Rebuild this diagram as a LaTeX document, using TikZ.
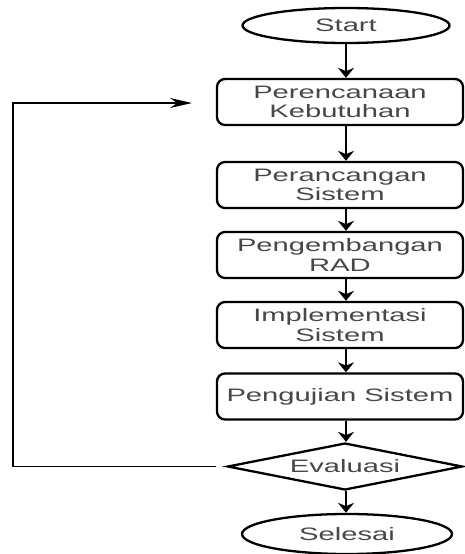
\documentclass[tikz,border=0pt]{standalone}
\usepackage{fontspec}
\setmainfont{Liberation Sans}
\newfontfamily\flowfont[FakeStretch=1.62]{Liberation Sans}
\usetikzlibrary{arrows.meta, positioning, shapes.geometric}

\begin{document}
\begin{tikzpicture}[
    x=1pt, y=-1pt,
    box/.style={draw, rounded corners=8pt, line width=2.3pt, minimum width=246pt, minimum height=46pt,
                align=center, inner sep=0pt, text=black!72,
                font=\flowfont\fontsize{18}{19.5}\selectfont},
    term/.style={box, ellipse, sharp corners, minimum width=207pt, minimum height=35pt},
    decide/.style={box, diamond, aspect=5, sharp corners, minimum width=235pt, minimum height=47pt},
    flow/.style={-{Stealth[length=10pt, width=16pt]}, line width=1.6pt},
    back/.style={-{Stealth[length=22pt, width=10pt]}, line width=1.4pt}
]
\useasboundingbox (0,0) rectangle (465,554);

\node[term]   (start)  at (346, 25.5) {Start};
\node[box]    (plan)   at (340, 102)  {Perencanaan\\Kebutuhan};
\node[box]    (design) at (340, 185)  {Perancangan\\Sistem};
\node[box]    (dev)    at (340, 255)  {Pengembangan\\RAD};
\node[box]    (impl)   at (340, 325)  {Implementasi\\Sistem};
\node[box]    (test)   at (340, 396.5) {Pengujian Sistem};
\node[decide] (eval)   at (345, 466.5) {Evaluasi};
\node[term, minimum width=210pt, minimum height=40pt] (finish) at (347, 534) {Selesai};

\coordinate (corner) at (13, 103);
\coordinate (tip)    at (192, 103);

\draw[flow] (start) -- (start |- plan.north);
\draw[flow] (plan.south -| start)   -- (design.north -| start);
\draw[flow] (design.south -| start) -- (dev.north -| start);
\draw[flow] (dev.south -| start)    -- (impl.north -| start);
\draw[flow] (impl.south -| start)   -- (test.north -| start);
\draw[flow] (test.south -| start)   -- (eval.north -| start);
\draw[flow] (eval.south -| start)   -- (start |- finish.north);
\draw[back] ([xshift=-10pt]eval.west) -| (corner) -- (tip);
\end{tikzpicture}
\end{document}
